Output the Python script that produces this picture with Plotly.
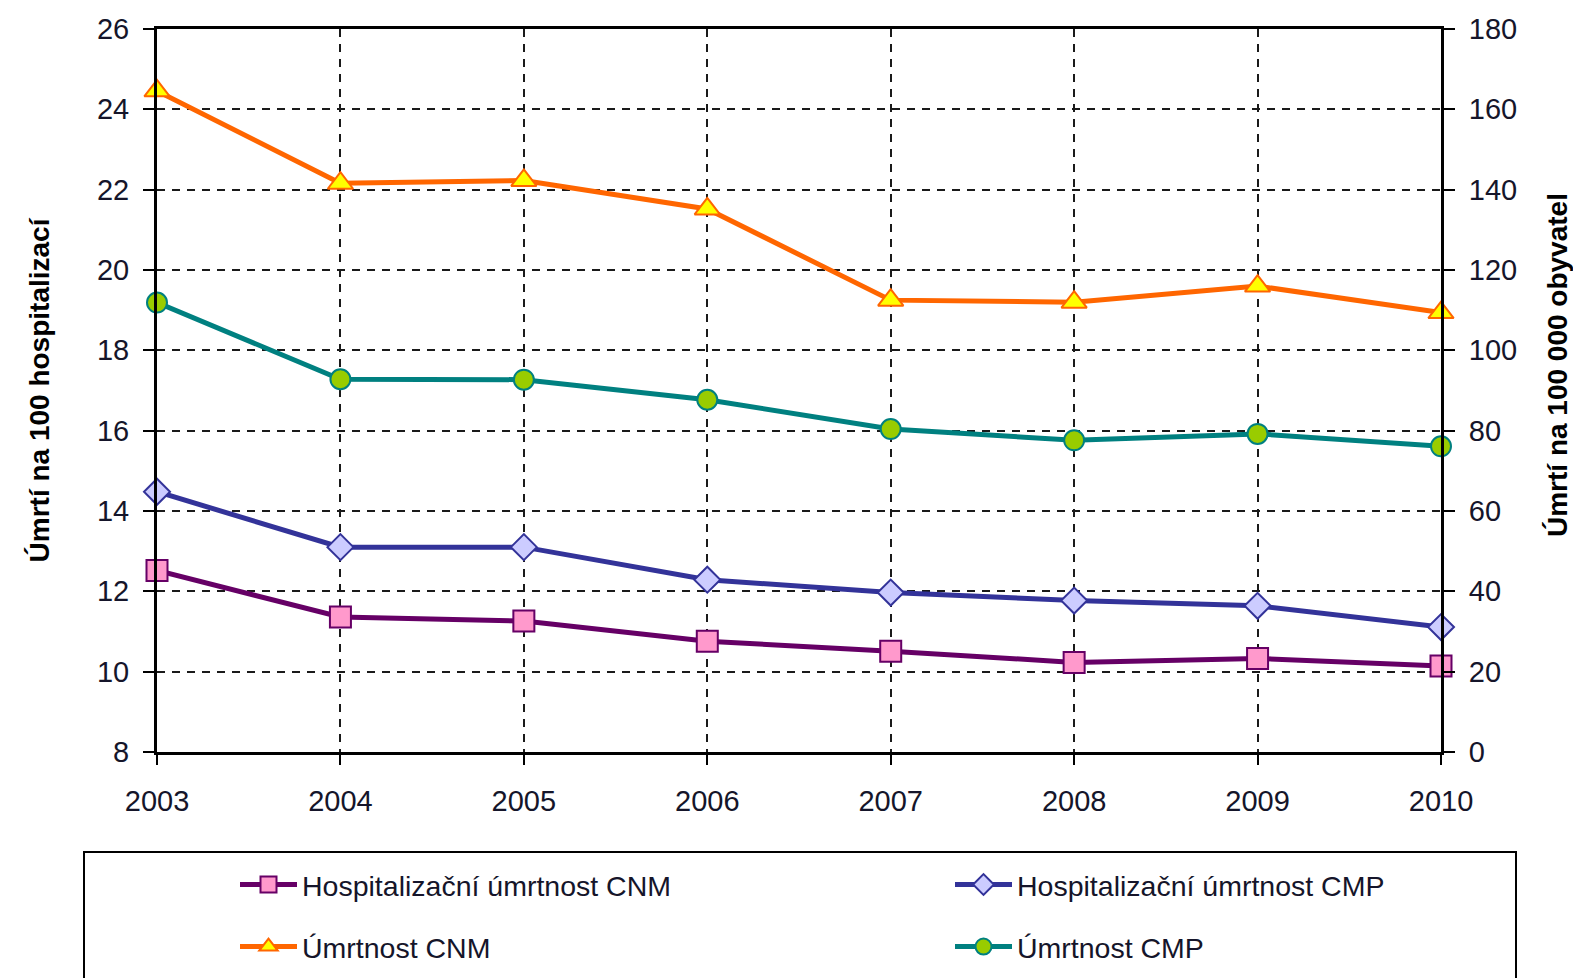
import plotly.graph_objects as go

years = [2003, 2004, 2005, 2006, 2007, 2008, 2009, 2010]
hosp_cnm = [12.52, 11.36, 11.26, 10.76, 10.51, 10.23, 10.33, 10.14]
hosp_cmp = [14.48, 13.10, 13.10, 12.29, 11.97, 11.77, 11.64, 11.11]
umrt_cnm = [164.6, 141.6, 142.3, 135.2, 112.5, 112.0, 116.0, 109.4]
umrt_cmp = [111.9, 92.8, 92.7, 87.7, 80.4, 77.6, 79.2, 76.1]

left_ticks = list(range(8, 27, 2))
right_ticks = list(range(0, 181, 20))

FONT = "Liberation Sans Narrow, Arial Narrow, Liberation Sans, Arial, sans-serif"
TXT = "#15152a"

W, H = 1581, 978
OFF = 8  # page body margin
ml, mt = 157 - OFF, 29 - OFF
pw, ph = 1284, 723
mr, mb = W - ml - pw, H - mt - ph

def px_x(p):
    return (p - OFF - ml) / pw

def px_y(p):
    return (mt + ph - (p - OFF)) / ph

fig = go.Figure()

fig.add_trace(go.Scatter(
    x=years, y=hosp_cnm, name="Hospitalizační úmrtnost CNM", mode="lines+markers",
    line=dict(color="#660066", width=5),
    marker=dict(symbol="square", size=21, color="#ff99cc", line=dict(color="#660066", width=2)),
    cliponaxis=False, legend="legend"))
fig.add_trace(go.Scatter(
    x=years, y=hosp_cmp, name="Hospitalizační úmrtnost CMP", mode="lines+markers",
    line=dict(color="#333399", width=5),
    marker=dict(symbol="diamond", size=20, color="#ccccff", line=dict(color="#333399", width=2)),
    cliponaxis=False, legend="legend2"))
fig.add_trace(go.Scatter(
    x=years, y=umrt_cnm, name="Úmrtnost CNM", mode="lines+markers", yaxis="y2",
    line=dict(color="#ff6600", width=5),
    marker=dict(symbol="triangle-up", size=22, color="#ffff00", line=dict(color="#ff6600", width=2)),
    cliponaxis=False, legend="legend3"))
fig.add_trace(go.Scatter(
    x=years, y=umrt_cmp, name="Úmrtnost CMP", mode="lines+markers", yaxis="y2",
    line=dict(color="#008080", width=5),
    marker=dict(symbol="circle", size=20, color="#99cc00", line=dict(color="#008080", width=2)),
    cliponaxis=False, legend="legend4"))

leg_common = dict(orientation="h", font=dict(family=FONT, size=28.5, color=TXT),
                  bgcolor="rgba(0,0,0,0)", borderwidth=0,
                  xanchor="left", yanchor="middle", itemwidth=57)

col1_x, col2_x = 235, 950
row1_y, row2_y = 885, 947

fig.update_layout(
    width=W, height=H,
    margin=dict(l=ml, r=mr, t=mt, b=mb, autoexpand=False),
    paper_bgcolor="white", plot_bgcolor="white",
    font=dict(family=FONT, size=29, color=TXT),
    showlegend=True,
    legend=dict(x=px_x(col1_x), y=px_y(row1_y), **leg_common),
    legend2=dict(x=px_x(col2_x), y=px_y(row1_y), **leg_common),
    legend3=dict(x=px_x(col1_x), y=px_y(row2_y), **leg_common),
    legend4=dict(x=px_x(col2_x), y=px_y(row2_y), **leg_common),
    xaxis=dict(
        range=[2003, 2010], tickmode="array", tickvals=years, ticktext=[str(y) for y in years],
        showgrid=True, gridcolor="#1a1a1a", griddash="8px,7px", gridwidth=2,
        showline=True, linecolor="black", linewidth=3, mirror=True,
        ticks="outside", ticklen=10, tickwidth=2, tickcolor="black",
        ticklabelstandoff=11, zeroline=False,
        tickfont=dict(family=FONT, size=29, color=TXT)),
    yaxis=dict(
        range=[8, 26], tickmode="array", tickvals=left_ticks,
        showgrid=True, gridcolor="#1a1a1a", griddash="8px,7px", gridwidth=2,
        showline=True, linecolor="black", linewidth=3,
        ticks="outside", ticklen=11, tickwidth=2, tickcolor="black",
        ticklabelstandoff=8, zeroline=False,
        tickfont=dict(family=FONT, size=29, color=TXT),
        title=dict(text="<b>Úmrtí na 100 hospitalizací</b>", standoff=40,
                   font=dict(family=FONT, size=28, color="black"))),
    yaxis2=dict(
        range=[0, 180], tickmode="array", tickvals=right_ticks, overlaying="y", side="right",
        showgrid=False, showline=True, linecolor="black", linewidth=3,
        ticks="outside", ticklen=11, tickwidth=2, tickcolor="black",
        ticklabelstandoff=8, zeroline=False,
        tickfont=dict(family=FONT, size=29, color=TXT)),
    shapes=[dict(type="rect", xref="paper", yref="paper",
                 x0=px_x(84), x1=px_x(1516), y0=px_y(995), y1=px_y(852),
                 line=dict(color="black", width=2), fillcolor="rgba(0,0,0,0)", layer="below")],
    annotations=[dict(text="<b>Úmrtí na 100 000 obyvatel</b>", xref="paper", yref="paper",
                      x=px_x(1557), y=px_y(365), xanchor="center", yanchor="middle",
                      textangle=-90, showarrow=False,
                      font=dict(family=FONT, size=28, color="black"))],
)

fig.write_html("out.html")
